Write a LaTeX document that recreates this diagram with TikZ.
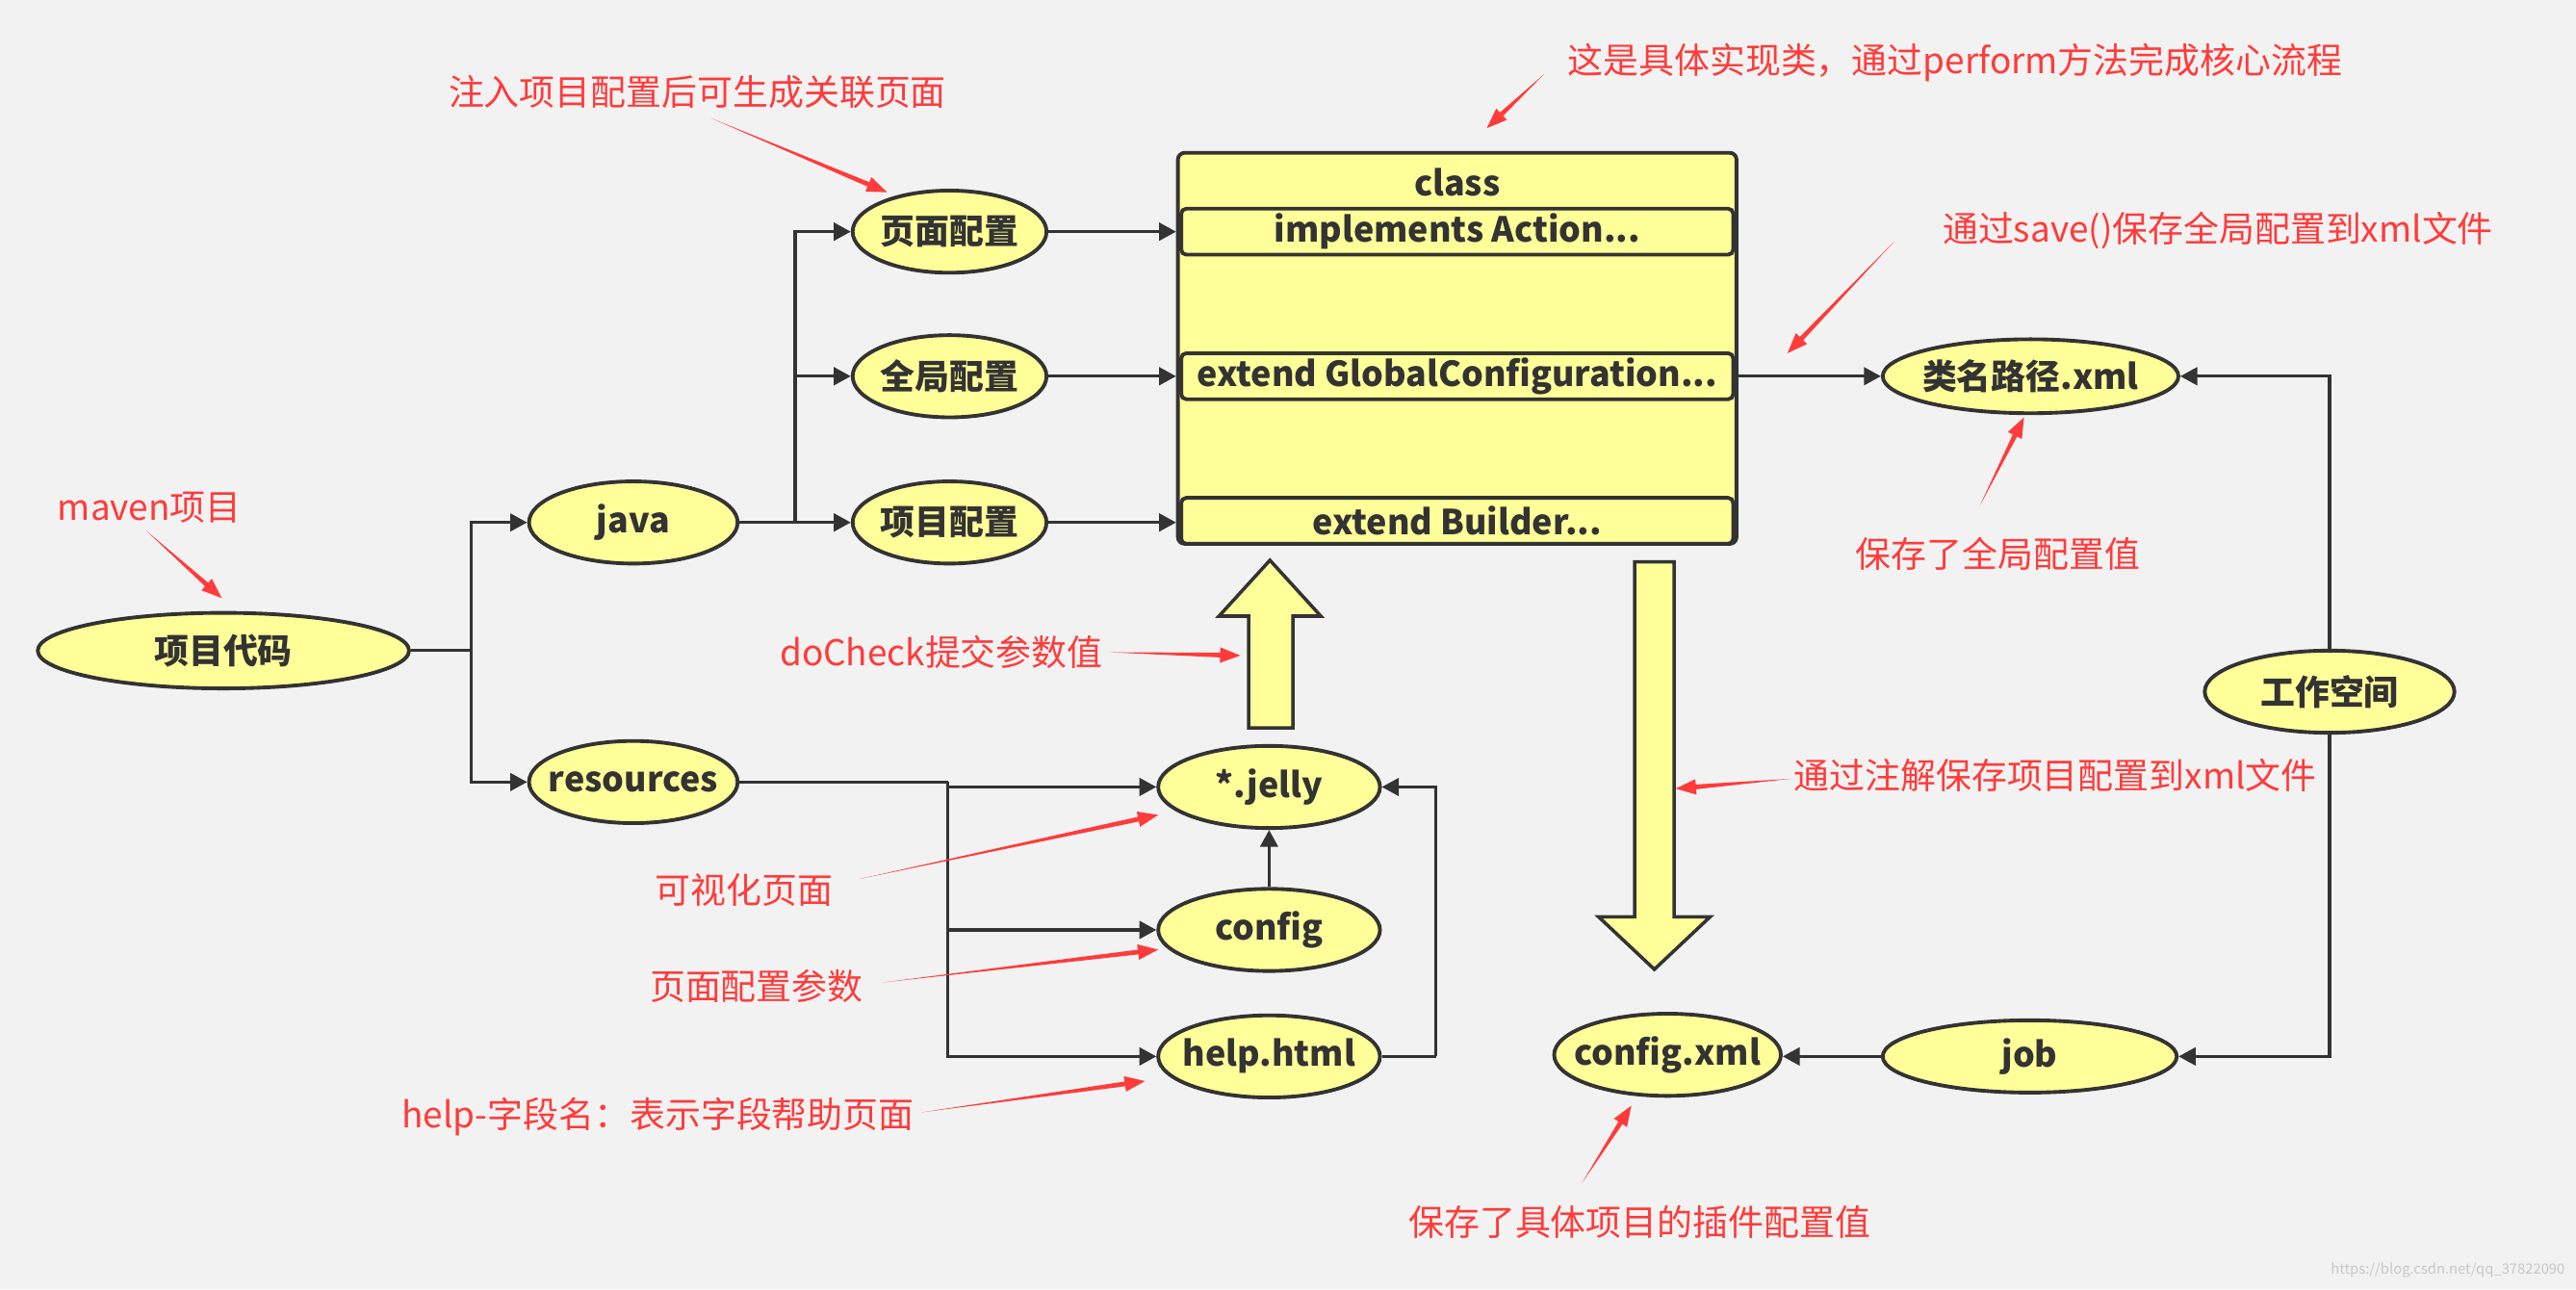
\documentclass[tikz,border=0pt]{standalone}
\usepackage{fontspec}
\setmainfont{Noto Sans CJK SC}
\usetikzlibrary{shapes.geometric,arrows.meta,calc}
\definecolor{bgc}{HTML}{F2F2F2}
\definecolor{ylw}{HTML}{FFFF99}
\definecolor{drk}{HTML}{333333}
\definecolor{redc}{HTML}{FF3B3B}
\definecolor{wmc}{HTML}{C8C8C8}
\newcommand\uu{0.017066cm}
\newcommand\zb[1]{\makebox[0pt]{#1}}
\newcommand\tarrow[2]{%
  \path ($(#2)!6pt!(#1)$) coordinate (tmpB);
  \fill[redc] (#1) -- ($(tmpB)!0.7pt!90:(#2)$) -- ($(tmpB)!2.3pt!90:(#2)$) -- (#2)
    -- ($(tmpB)!2.3pt!-90:(#2)$) -- ($(tmpB)!0.7pt!-90:(#2)$) -- cycle;}
\begin{document}
\begin{tikzpicture}[x=\uu,y=-\uu,
  nd/.style={ellipse,draw=drk,fill=ylw,line width=1.1pt,inner sep=0pt,
    text=drk,font=\fontsize{10.2pt}{12pt}\selectfont\bfseries},
  rowbox/.style={rectangle,draw=drk,fill=ylw,line width=1.1pt,rounded corners=1.5pt,
    inner sep=0pt,minimum width=336*\uu,minimum height=28*\uu,text=drk,
    font=\fontsize{10.2pt}{12pt}\selectfont\bfseries},
  conn/.style={draw=drk,line width=0.9pt,-{Triangle[length=5pt,width=5.2pt]}},
  plain/.style={draw=drk,line width=0.9pt},
  annot/.style={text=redc,inner sep=0pt,font=\fontsize{10.5pt}{12pt}\selectfont},
  blk/.style={draw=drk,fill=ylw,line width=1pt,line join=miter}]
\fill[bgc] (0,0) rectangle (1568,784.6);
\useasboundingbox (0,0) rectangle (1568,784.6);

% ellipse nodes
\node[nd,minimum width=226*\uu,minimum height=46*\uu] (dm) at (136,396) {\zb{项目代码}};
\node[nd,minimum width=127*\uu,minimum height=50*\uu] (java) at (385.5,318) {\zb{java}};
\node[nd,minimum width=127*\uu,minimum height=50*\uu] (res) at (385.5,476) {\zb{resources}};
\node[nd,minimum width=118*\uu,minimum height=50*\uu] (ymp) at (578,141) {\zb{页面配置}};
\node[nd,minimum width=118*\uu,minimum height=50*\uu] (qjp) at (578,229) {\zb{全局配置}};
\node[nd,minimum width=118*\uu,minimum height=50*\uu] (xmp) at (578,318) {\zb{项目配置}};
\node[nd,minimum width=135*\uu,minimum height=50*\uu] (jelly) at (772.5,479) {\zb{*.jelly}};
\node[nd,minimum width=135*\uu,minimum height=50*\uu] (cfg) at (772.5,566) {\zb{config}};
\node[nd,minimum width=135*\uu,minimum height=50*\uu] (help) at (772.5,643) {\zb{help.html}};
\node[nd,minimum width=180*\uu,minimum height=45*\uu] (lmx) at (1236,229) {\zb{类名路径.xml}};
\node[nd,minimum width=152*\uu,minimum height=50*\uu] (gzkj) at (1418,421) {\zb{工作空间}};
\node[nd,minimum width=179*\uu,minimum height=44*\uu] (job) at (1235.5,643) {\zb{job}};
\node[nd,minimum width=138*\uu,minimum height=50*\uu] (cxml) at (1015,642) {\zb{config.xml}};

% class box
\node[rectangle,draw=drk,fill=ylw,line width=1.1pt,rounded corners=2pt,inner sep=0pt,
  minimum width=340*\uu,minimum height=238*\uu] (cls) at (887,212) {};
\node[text=drk,font=\fontsize{10.2pt}{12pt}\selectfont\bfseries,inner sep=0pt] (ctitle) at (887,111) {class};
\node[rowbox] (r1) at (887,141) {implements Action...};
\node[rowbox] (r2) at (887,229) {extend GlobalConfiguration...};
\node[rowbox] (r3) at (887,317) {extend Builder...};

% block arrows
\draw[blk] (760,443) -- (760,375) -- (742,375) -- (773,341) -- (804,375) -- (787,375) -- (787,443) -- cycle;
\draw[blk] (995,342) -- (1019,342) -- (1019,558) -- (1041,558) -- (1007,590) -- (973,558) -- (995,558) -- cycle;

% connectors
\coordinate (b1) at (287,396);
\draw[plain] (dm.east) -- (b1);
\draw[conn] (b1) |- (java.west);
\draw[conn] (b1) |- (res.west);
\coordinate (b2) at (484,318);
\draw[plain] (java.east) -- (b2);
\draw[conn] (b2) |- (ymp.west);
\draw[conn] (b2) |- (qjp.west);
\draw[conn] (b2) -- (xmp.west);
\draw[conn] (ymp.east) -- (ymp.east -| cls.west);
\draw[conn] (qjp.east) -- (qjp.east -| cls.west);
\draw[conn] (xmp.east) -- (xmp.east -| cls.west);
\coordinate (b3) at (577,476);
\draw[plain] (res.east) -- (b3);
\draw[conn] (b3) |- (jelly.west);
\draw[conn] (b3) |- (cfg.west);
\draw[conn] (b3) |- (help.west);
\draw[conn] (cfg.north) -- (jelly.south);
\coordinate (b4) at (874,643);
\draw[plain] (help.east) -- (b4);
\draw[conn] (b4) |- (jelly.east);
\draw[conn] (r2.east -| cls.east) -- (lmx.west);
\draw[conn] (gzkj.north) |- (lmx.east);
\draw[conn] (gzkj.south) |- (job.east);
\draw[conn] (job.west) -- (job.west -| cxml.east);

% annotations
\node[annot] (a1) at (1190,38) {这是具体实现类，通过perform方法完成核心流程};
\node[annot] (a2) at (424.5,56) {注入项目配置后可生成关联页面};
\node[annot] (a3) at (1350,140) {通过save()保存全局配置到xml文件};
\node[annot] (a4) at (91,309) {maven项目};
\node[annot] (a5) at (1216,337) {保存了全局配置值};
\node[annot] (a6) at (573,397) {doCheck提交参数值};
\node[annot] (a7) at (1251,472) {通过注解保存项目配置到xml文件};
\node[annot] (a8) at (453,542) {可视化页面};
\node[annot] (a9) at (460.5,600) {页面配置参数};
\node[annot] (a10) at (400.5,680) {help-字段名：表示字段帮助页面};
\node[annot] (a11) at (998,744) {保存了具体项目的插件配置值};
\node[text=wmc,inner sep=0pt,font=\fontsize{4.2pt}{5pt}\selectfont] (wm) at (1490,773) {https://blog.csdn.net/qq\_37822090};

\coordinate (t1) at (940,45);   \coordinate (h1) at (905,78);
\coordinate (t2) at (433,72);   \coordinate (h2) at (540,117);
\coordinate (t3) at (1153,147); \coordinate (h3) at (1088,215);
\coordinate (t4) at (89,323);   \coordinate (h4) at (135,364);
\coordinate (t5) at (1205,308); \coordinate (h5) at (1232,254);
\coordinate (t6) at (675,397);  \coordinate (h6) at (755,399);
\coordinate (t7) at (1090,474); \coordinate (h7) at (1020,480);
\coordinate (t8) at (523,535);  \coordinate (h8) at (705,496);
\coordinate (t9) at (537,598);  \coordinate (h9) at (705,578);
\coordinate (t10) at (561,677); \coordinate (h10) at (697,658);
\coordinate (t11) at (963,720); \coordinate (h11) at (993,673);
\tarrow{t1}{h1}
\tarrow{t2}{h2}
\tarrow{t3}{h3}
\tarrow{t4}{h4}
\tarrow{t5}{h5}
\tarrow{t6}{h6}
\tarrow{t7}{h7}
\tarrow{t8}{h8}
\tarrow{t9}{h9}
\tarrow{t10}{h10}
\tarrow{t11}{h11}
\end{tikzpicture}
\end{document}
